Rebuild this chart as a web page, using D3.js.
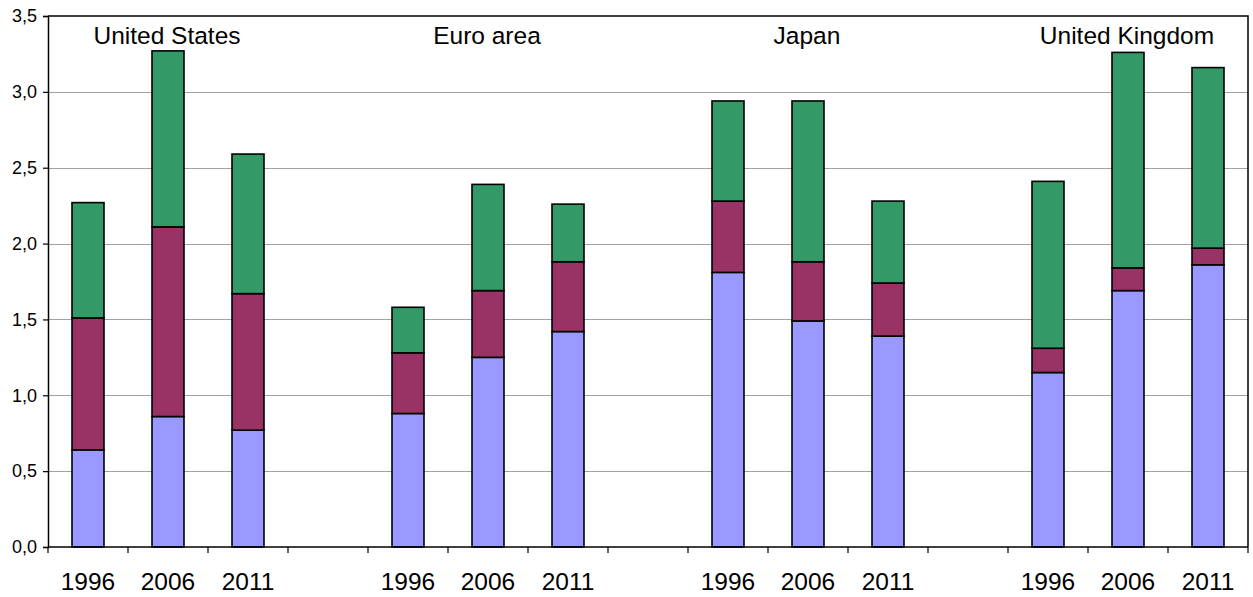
<!DOCTYPE html>
<html><head><meta charset="utf-8">
<script src="https://cdn.jsdelivr.net/npm/d3@7"></script>
<style>
html,body{margin:0;padding:0;background:#fff;}
svg{display:block;font-family:"Liberation Sans",Arial,sans-serif;}
</style></head>
<body>
<svg id="chart" width="1253" height="597"></svg>
<script>
const regions = ["United States", "Euro area", "Japan", "United Kingdom"];
const years = ["1996", "2006", "2011"];
// stacked components per bar (bottom, middle, top), in order of regions x years
const seriesBottom = [0.64, 0.86, 0.77, 0.88, 1.25, 1.42, 1.81, 1.49, 1.39, 1.15, 1.69, 1.86];
const seriesMiddle = [0.87, 1.25, 0.90, 0.40, 0.44, 0.46, 0.47, 0.39, 0.35, 0.16, 0.15, 0.11];
const seriesTop    = [0.76, 1.16, 0.92, 0.30, 0.70, 0.38, 0.66, 1.06, 0.54, 1.10, 1.42, 1.19];
const yTicks = [0, 0.5, 1.0, 1.5, 2.0, 2.5, 3.0, 3.5];
const seriesKeys = ["bottom", "middle", "top"];
const seriesColors = ["#9999FF", "#993366", "#339966"];

const svg = d3.select("#chart");
const L = 48, R = 1248, T = 16, B = 547;

// slots: 3 bars per region, 1 empty slot between regions
const slots = [];
const rows = [];
regions.forEach((r, ri) => {
  years.forEach((y, yi) => {
    const key = r + "|" + y;
    slots.push(key);
    const i = ri * 3 + yi;
    rows.push({key, year: y, region: r, bottom: seriesBottom[i], middle: seriesMiddle[i], top: seriesTop[i]});
  });
  if (ri < regions.length - 1) slots.push("gap" + ri);
});

const x = d3.scaleBand().domain(slots).range([L, R]).paddingInner(0.6).paddingOuter(0.3);
const y = d3.scaleLinear().domain([0, 3.5]).range([B, T]);
const step = x.step(), off = (step - x.bandwidth()) / 2;

const fmt = d3.formatLocale({decimal: ",", thousands: ".", grouping: [3], currency: ["", ""]}).format(".1f");

// gridlines
svg.append("g").selectAll("line").data(yTicks.filter(t => t > 0 && t < 3.5)).join("line")
  .attr("x1", L).attr("x2", R).attr("y1", d => Math.round(y(d)) + 0.5).attr("y2", d => Math.round(y(d)) + 0.5)
  .attr("stroke", "#a0a0a0").attr("stroke-width", 1);

// bars
const stack = d3.stack().keys(seriesKeys)(rows);
svg.append("g").selectAll("g").data(stack).join("g")
  .attr("fill", (d, i) => seriesColors[i])
  .selectAll("rect").data(d => d).join("rect")
  .attr("x", d => x(d.data.key))
  .attr("width", x.bandwidth())
  .attr("y", d => y(d[1]))
  .attr("height", d => y(d[0]) - y(d[1]))
  .attr("stroke", "#000").attr("stroke-width", 1.6);

// frame top/right
svg.append("path").attr("d", `M${L},${T}H${R}V${B}`).attr("fill", "none").attr("stroke", "#000").attr("stroke-width", 1.5);

// y axis
const yAxis = svg.append("g").attr("transform", `translate(${L},0)`)
  .call(d3.axisLeft(y).tickValues(yTicks).tickFormat(fmt).tickSize(5).tickPadding(6));
yAxis.select(".domain").attr("stroke", "#000").attr("stroke-width", 1.5);
yAxis.selectAll("line").attr("stroke", "#000").attr("stroke-width", 1.2);
yAxis.selectAll("text").attr("font-size", 18).attr("fill", "#000").attr("font-family", "Liberation Sans, Arial, sans-serif");

// x axis: ticks at slot boundaries
const bounds = slots.map(s => x(s) - off).concat([x(slots[slots.length - 1]) + x.bandwidth() + off]);
const xa = svg.append("g");
xa.append("line").attr("x1", L).attr("x2", R).attr("y1", B).attr("y2", B).attr("stroke", "#000").attr("stroke-width", 1.5);
xa.selectAll("line.tk").data(bounds).join("line").attr("class", "tk")
  .attr("x1", d => d).attr("x2", d => d).attr("y1", B).attr("y2", B + 6)
  .attr("stroke", "#000").attr("stroke-width", 1.2);
xa.selectAll("text").data(rows).join("text")
  .attr("x", d => x(d.key) + x.bandwidth() / 2).attr("y", 590)
  .attr("text-anchor", "middle").attr("font-size", 24.5).attr("fill", "#000")
  .text(d => d.year);

// region labels
svg.append("g").selectAll("text").data(regions).join("text")
  .attr("x", r => x(r + "|" + years[1]) + x.bandwidth() / 2 - 1)
  .attr("y", 44).attr("text-anchor", "middle").attr("font-size", 24.5).attr("fill", "#000")
  .text(r => r);
</script>
</body></html>
